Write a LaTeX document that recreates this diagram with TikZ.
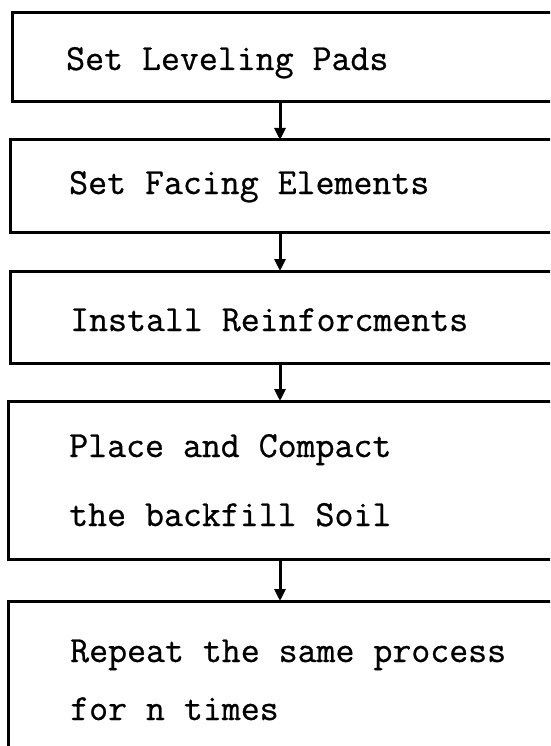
\documentclass[tikz,border=0pt]{standalone}
\usepackage{fontspec}
\newfontfamily\typewriter{Latin Modern Mono}[FakeBold=0.7]
\usetikzlibrary{arrows.meta}
\tikzset{
  stepbox/.style={draw=black, line width=3pt, rectangle, inner sep=0pt, outer sep=0pt,
    anchor=north west, minimum width=620pt},
  steptext/.style={anchor=base west, inner sep=0pt, font=\fontsize{36.8}{40}\selectfont\typewriter},
  flow/.style={line width=3pt, -{Triangle[length=12pt,width=11pt]}}
}
\begin{document}
\begin{tikzpicture}[x=1pt,y=-1pt]
\useasboundingbox (0,0) rectangle (550,746);
\clip (0,0) rectangle (550,746);
\fill[white] (0,0) rectangle (550,746);
\node[stepbox, minimum height=89pt] (b1) at (12,13) {};
\node[stepbox, minimum height=92pt] (b2) at (10,140) {};
\node[stepbox, minimum height=92pt] (b3) at (10,271) {};
\node[stepbox, minimum height=158pt] (b4) at (8,401) {};
\node[stepbox, minimum height=200pt] (b5) at (8,601) {};
\node[steptext] (t1) at (66,70) {Set Leveling Pads};
\node[steptext] (t2) at (69,194) {Set Facing Elements};
\node[steptext] (t3) at (70,331) {Install Reinforcments};
\node[steptext] (t4a) at (69,457) {Place and Compact};
\node[steptext] (t4b) at (69,526) {the backfill Soil};
\node[steptext] (t5a) at (70,662) {Repeat the same process};
\node[steptext] (t5b) at (70,720) {for n times};
\coordinate (ax) at (280,0);
\draw[flow] (b1.south -| ax) -- (b2.north -| ax);
\draw[flow] (b2.south -| ax) -- (b3.north -| ax);
\draw[flow] (b3.south -| ax) -- (b4.north -| ax);
\draw[flow] (b4.south -| ax) -- (b5.north -| ax);
\end{tikzpicture}
\end{document}
